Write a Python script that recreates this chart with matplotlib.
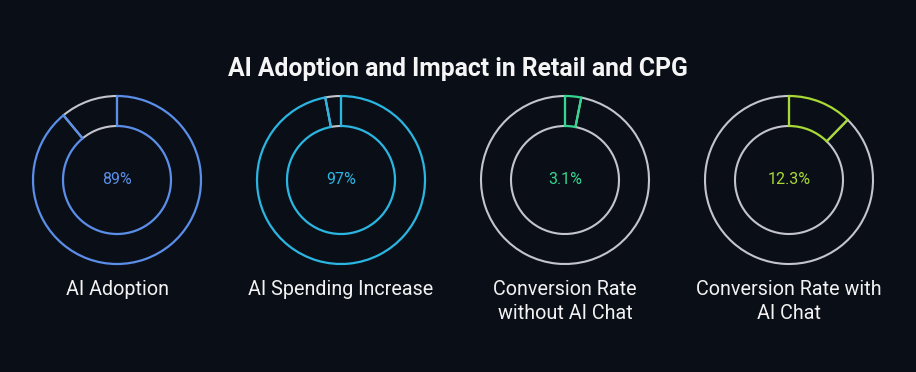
import matplotlib
matplotlib.use("Agg")
import matplotlib.pyplot as plt
from matplotlib.patches import Wedge

# data
labels = ["AI Adoption", "AI Spending Increase", "Conversion Rate\nwithout AI Chat", "Conversion Rate with\nAI Chat"]
values = [89, 97, 3.1, 12.3]
value_text = ["89%", "97%", "3.1%", "12.3%"]
colors = ["#5b8ee8", "#2bb6e2", "#34d68f", "#a8d936"]

bg = "#0a0f17"
rest_color = "#c4c4cc"

plt.rcParams['font.family'] = ['Roboto', 'DejaVu Sans']

fig = plt.figure(figsize=(9.16, 3.72), dpi=100, facecolor=bg)
ax = fig.add_axes([0, 0, 1, 1])
ax.set_facecolor(bg)
ax.set_xlim(0, 916)
ax.set_ylim(0, 372)
ax.axis("off")

H = 372
r_out = 84
ring = 30
cy = H - 180

for i, (lab, v, txt, col) in enumerate(zip(labels, values, value_text, colors)):
    cx = 117 + i * 224
    end = 90 - 360 * v / 100.0
    # remaining part in grey, drawn first
    ax.add_patch(Wedge((cx, cy), r_out, 90, end + 360, width=ring,
                       fill=False, edgecolor=rest_color, lw=1.5, zorder=2))
    # value part on top
    ax.add_patch(Wedge((cx, cy), r_out, end, 90, width=ring,
                       fill=False, edgecolor=col, lw=1.6, zorder=3))
    ax.text(cx, cy, txt, color=col, fontsize=11.5, ha="center", va="center")
    ax.text(cx, H - 280, lab, color="#f2f2f2", fontsize=14.2, ha="center",
            va="top", linespacing=1.32)

ax.text(458, H - 69, "AI Adoption and Impact in Retail and CPG", color="#f5f5f5",
        fontsize=17.8, fontweight="bold", ha="center", va="center")

fig.savefig("out.png", dpi=100, facecolor=bg)
